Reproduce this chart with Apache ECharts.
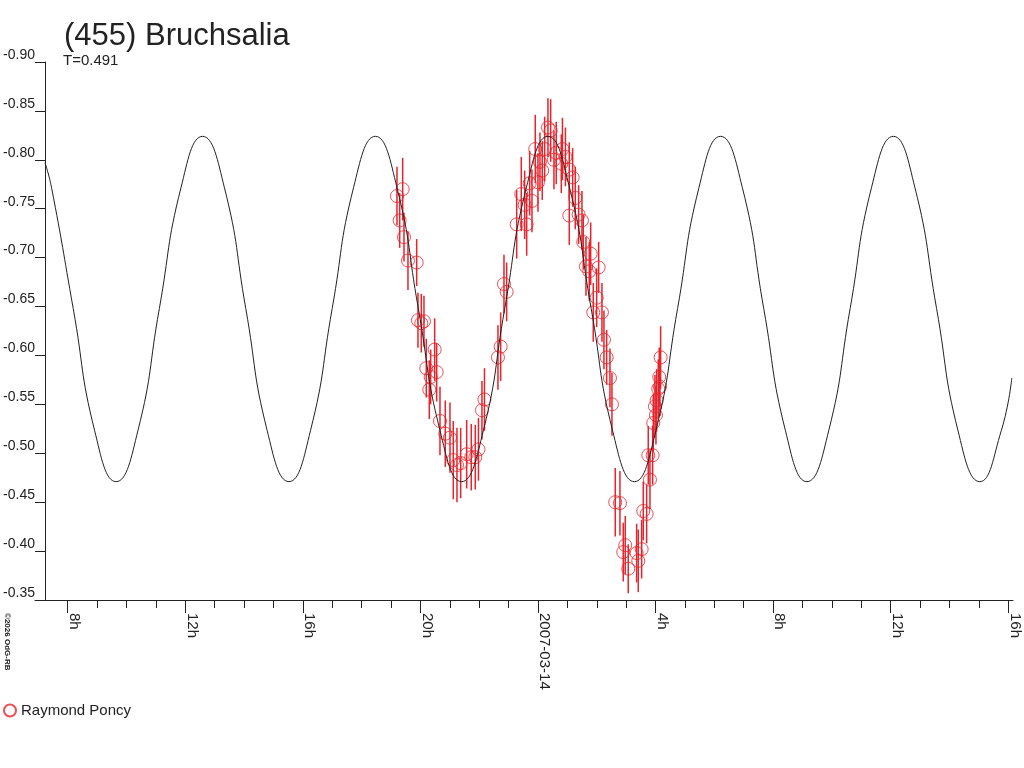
<!DOCTYPE html>
<html>
<head>
<meta charset="utf-8">
<title>(455) Bruchsalia</title>
<script src="https://cdn.jsdelivr.net/npm/echarts@6/dist/echarts.min.js"></script>
<style>
  html, body { margin: 0; padding: 0; background: #fff; }
  #chart { width: 1024px; height: 768px; }
</style>
</head>
<body>
<div id="chart"></div>
<script>
// hours relative to 2007-03-14 0h UT
var obsTimes = [
    -4.796, -4.704, -4.602, -4.558, -4.422, -4.126, -4.082, -3.969, -3.878, -3.799,
    -3.697, -3.650, -3.514, -3.446, -3.333, -3.153, -2.993, -2.881, -2.755, -2.629,
    -2.425, -2.269, -2.133, -2.024, -1.905, -1.820, -1.361, -1.269, -1.156, -1.065,
    -0.724, -0.568, -0.452, -0.384, -0.282, -0.204, -0.092, 0.000, 0.068, 0.146,
    0.228, 0.340, 0.432, 0.544, 0.622, 0.793, 0.833, 0.935, 1.065, 1.180,
    1.065, 1.269, 1.384, 1.497, 1.541, 1.633, 1.745, 1.793, 2.065, 1.997,
    1.881, 2.177, 2.245, 2.337, 2.449, 2.517, 2.629, 2.789, 2.901, 2.969,
    3.071, 3.357, 3.412, 3.527, 3.582, 3.697, 3.752, 3.810, 3.901, 3.922,
    3.980, 4.014, 4.037, 4.092, 4.126, 4.173, 4.150
];
var obsMags = [
    -0.763, -0.738, -0.770, -0.721, -0.697, -0.695, -0.636, -0.633, -0.635, -0.587,
    -0.565, -0.578, -0.606, -0.583, -0.533, -0.520, -0.516, -0.493, -0.488, -0.490,
    -0.499, -0.496, -0.496, -0.504, -0.544, -0.555, -0.598, -0.609, -0.673, -0.665,
    -0.734, -0.765, -0.754, -0.734, -0.776, -0.758, -0.811, -0.777, -0.798, -0.789,
    -0.811, -0.833, -0.830, -0.800, -0.807, -0.796, -0.811, -0.803, -0.790, -0.782,
    -0.743, -0.761, -0.744, -0.738, -0.716, -0.691, -0.686, -0.704, -0.690, -0.659,
    -0.644, -0.644, -0.616, -0.598, -0.577, -0.550, -0.450, -0.449, -0.399, -0.406,
    -0.382, -0.398, -0.390, -0.402, -0.441, -0.438, -0.498, -0.473, -0.498, -0.531,
    -0.548, -0.539, -0.554, -0.566, -0.578, -0.598, -0.568
];
var obsErrs = [
    0.030, 0.028, 0.032, 0.025, 0.030, 0.024, 0.028, 0.030, 0.026, 0.030,
    0.030, 0.028, 0.032, 0.030, 0.035, 0.034, 0.036, 0.040, 0.038, 0.036,
    0.035, 0.034, 0.033, 0.032, 0.030, 0.032, 0.033, 0.035, 0.030, 0.030,
    0.035, 0.038, 0.035, 0.032, 0.033, 0.032, 0.035, 0.030, 0.030, 0.030,
    0.033, 0.030, 0.032, 0.030, 0.032, 0.030, 0.032, 0.030, 0.028, 0.030,
    0.030, 0.032, 0.030, 0.030, 0.028, 0.030, 0.030, 0.032, 0.026, 0.030,
    0.030, 0.030, 0.030, 0.028, 0.030, 0.032, 0.035, 0.033, 0.030, 0.030,
    0.025, 0.030, 0.032, 0.030, 0.030, 0.030, 0.030, 0.030, 0.030, 0.030,
    0.032, 0.030, 0.032, 0.030, 0.030, 0.032, 0.030
];

// fitted lightcurve
var curveTimes = [
    -16.77, -16.55, -15.81, -15.08, -14.35, -13.61, -12.88, -12.14, -11.41, -10.67,
    -9.94, -9.21, -8.47, -7.74, -7.00, -6.27, -5.53, -4.80, -4.07, -3.33,
    -2.60, -1.86, -1.13, -0.39, 0.34, 1.07, 1.81, 2.54, 3.28, 4.01,
    4.75, 5.48, 6.21, 6.95, 7.68, 8.42, 9.15, 9.89, 10.62, 11.35,
    12.09, 12.82, 13.56, 14.29, 15.03, 15.76, 16.12
];
var curveMags = [
    -0.797, -0.772, -0.648, -0.523, -0.471, -0.523, -0.648, -0.772, -0.824, -0.772,
    -0.648, -0.523, -0.471, -0.523, -0.648, -0.772, -0.824, -0.772, -0.648, -0.523,
    -0.471, -0.523, -0.648, -0.772, -0.824, -0.772, -0.648, -0.523, -0.471, -0.523,
    -0.648, -0.772, -0.824, -0.772, -0.648, -0.523, -0.471, -0.523, -0.648, -0.772,
    -0.824, -0.772, -0.648, -0.523, -0.471, -0.523, -0.577
];

var hourTicks = [-16, -15, -14, -13, -12, -11, -10, -9, -8, -7, -6, -5, -4, -3, -2, -1,
    0, 1, 2, 3, 4, 5, 6, 7, 8, 9, 10, 11, 12, 13, 14, 15, 16];
var labelTicks = [-16, -12, -8, -4, 0, 4, 8, 12, 16];
var dateLabel = '2007-03-14';
var observer = 'Raymond Poncy';

var RED = '#e8232b';
var INK = '#222';
var FONT = 'Liberation Sans, Arial, sans-serif';
var X_MIN = -17.11, X_MAX = 16.16;

function hourLabel(v) {
    if (Math.abs(v) < 1e-6) {
        return dateLabel;
    }
    var h = ((Math.round(v) % 24) + 24) % 24;
    return h + 'h';
}

var points = [], bars = [], curve = [];
obsTimes.forEach(function (t, i) {
    points.push([t, obsMags[i]]);
    bars.push([t, obsMags[i] - obsErrs[i], obsMags[i] + obsErrs[i]]);
});
curveTimes.forEach(function (t, i) {
    curve.push([t, curveMags[i]]);
});

var chart = echarts.init(document.getElementById('chart'));

var option = {
    backgroundColor: '#fff',
    animation: false,
    textStyle: { fontFamily: FONT },
    title: [{
        text: '(455) Bruchsalia',
        left: 64, top: 21,
        padding: 0,
        textStyle: { fontSize: 31, fontWeight: 'normal', color: INK, fontFamily: FONT }
    }, {
        text: 'T=0.491',
        left: 63, top: 53,
        padding: 0,
        textStyle: { fontSize: 15, fontWeight: 'normal', color: INK, fontFamily: FONT }
    }],
    legend: {
        data: [observer],
        left: 3, top: 703,
        padding: 0,
        itemWidth: 12, itemHeight: 12,
        textStyle: { fontSize: 15, color: INK, fontFamily: FONT }
    },
    grid: { left: 35, right: 11, top: 62, bottom: 168 },
    xAxis: [{
        type: 'value',
        min: X_MIN, max: X_MAX,
        position: 'bottom',
        axisLine: { show: true, onZero: false, lineStyle: { color: INK, width: 1 } },
        axisTick: { show: true, customValues: labelTicks, length: 13, lineStyle: { color: INK } },
        splitLine: { show: false },
        axisLabel: {
            customValues: labelTicks,
            formatter: hourLabel,
            rotate: -90,
            margin: 13,
            verticalAlign: 'bottom',
            lineHeight: 13,
            fontSize: 15,
            color: INK,
            fontFamily: FONT
        }
    }, {
        type: 'value',
        min: X_MIN, max: X_MAX,
        position: 'bottom',
        axisLine: { show: false, onZero: false },
        axisTick: { show: true, customValues: hourTicks, length: 8, lineStyle: { color: INK } },
        axisLabel: { show: false },
        splitLine: { show: false }
    }],
    yAxis: {
        type: 'value',
        min: -0.90, max: -0.35,
        interval: 0.05,
        inverse: true,
        position: 'left',
        offset: -10,
        axisLine: { show: true, onZero: false, lineStyle: { color: INK, width: 1 } },
        axisTick: { show: true, length: 10, lineStyle: { color: INK } },
        splitLine: { show: false },
        axisLabel: {
            formatter: function (v) { return v.toFixed(2); },
            margin: 10,
            verticalAlign: 'bottom',
            lineHeight: 14,
            fontSize: 14,
            color: INK,
            fontFamily: FONT
        }
    },
    series: [{
        name: 'errors',
        type: 'custom',
        xAxisIndex: 0,
        data: bars,
        z: 2,
        silent: true,
        renderItem: function (params, api) {
            var lo = api.coord([api.value(0), api.value(1)]);
            var hi = api.coord([api.value(0), api.value(2)]);
            return {
                type: 'line',
                shape: { x1: lo[0], y1: lo[1], x2: hi[0], y2: hi[1] },
                style: { stroke: RED, lineWidth: 1.5 }
            };
        }
    }, {
        name: observer,
        type: 'scatter',
        xAxisIndex: 0,
        data: points,
        symbol: 'circle',
        symbolSize: 13,
        z: 3,
        itemStyle: { color: 'rgba(0,0,0,0)', borderColor: RED, borderWidth: 1 }
    }, {
        name: 'fit',
        type: 'line',
        xAxisIndex: 0,
        data: curve,
        smooth: 0.5,
        showSymbol: false,
        z: 4,
        lineStyle: { color: INK, width: 1 }
    }],
    graphic: [{
        type: 'text',
        x: 3, y: 613,
        rotation: -Math.PI / 2,
        style: {
            text: '\u00a92026 OdG-RB',
            fontSize: 8,
            fontWeight: 'bold',
            fontFamily: FONT,
            fill: INK,
            textAlign: 'left',
            textVerticalAlign: 'bottom'
        }
    }]
};

chart.setOption(option);
</script>
</body>
</html>
